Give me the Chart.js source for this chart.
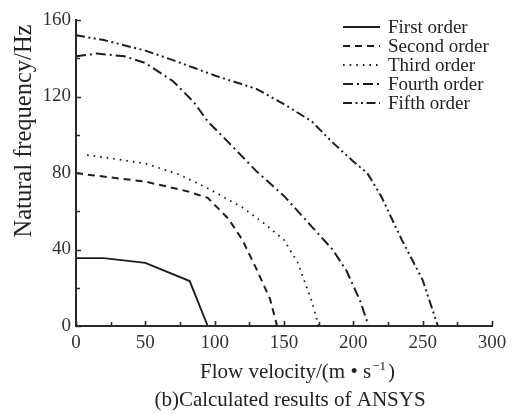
<!DOCTYPE html>
<html>
<head>
<meta charset="utf-8">
<style>
  html, body { margin: 0; padding: 0; background: #fff; }
  #wrap { width: 513px; height: 414px; }
</style>
<script src="https://cdn.jsdelivr.net/npm/chart.js@4/dist/chart.umd.min.js"></script>
</head>
<body>
<div id="wrap"><canvas id="c" width="513" height="414"></canvas></div>
<script>
// Flow velocity (m/s) and natural frequency (Hz) for each mode order
const v1 = [0, 20, 50, 82, 95];
const f1 = [35.5, 35.5, 33, 23.5, 0];

const v2 = [0, 10, 50, 80, 95, 110, 120, 130, 140, 145];
const f2 = [80, 79, 75.5, 70.5, 67, 56, 45, 30, 14, 0];

const v3 = [8, 22, 50, 75, 95, 110, 120, 135, 150, 160, 165, 170, 175];
const f3 = [89.5, 88, 85, 79, 72, 66, 62, 54, 45, 33, 23, 13, 0];

const v4 = [0, 15, 35, 50, 70, 85, 95, 110, 130, 150, 170, 185, 195, 205, 211];
const f4 = [141, 142.5, 141, 137.5, 128, 117, 107, 96, 81, 68, 52, 40, 29, 13, 0];

const v5 = [0, 20, 50, 70, 85, 100, 130, 150, 170, 185, 200, 210, 220, 235, 250, 261];
const f5 = [152, 149.5, 144, 139, 135, 131, 124, 116, 107, 96, 86, 80, 68, 45, 24, 0];

const seriesNames = ['First order', 'Second order', 'Third order', 'Fourth order', 'Fifth order'];
const xTicks = [0, 50, 100, 150, 200, 250, 300];
const yTicks = [0, 40, 80, 120, 160];

const xTitle = 'Flow velocity/(m \u2022 s';
const xTitleSup = '\u22121';
const yTitle = 'Natural frequency/Hz';
const caption = '(b)Calculated results of ANSYS';

const SERIF = '"Liberation Serif", "DejaVu Serif", serif';
const INK = '#1e1e1e';

function pts(xs, ys) { return xs.map((x, i) => ({ x: x, y: ys[i] })); }

const dashes = [[], [7, 5], [1.6, 5], [10, 4, 2, 4], [9, 3.5, 2, 3.5, 2, 3.5]];
const widths = [1.9, 2, 1.8, 2, 2];
const sets = [[v1, f1], [v2, f2], [v3, f3], [v4, f4], [v5, f5]];

const datasets = sets.map((s, i) => ({
  label: seriesNames[i],
  data: pts(s[0], s[1]),
  borderColor: INK,
  borderWidth: widths[i],
  borderDash: dashes[i],
  pointRadius: 0,
  tension: 0,
  fill: false,
  clip: 3
}));

// Inward major/minor ticks, titles and an in-plot legend
const decor = {
  id: 'decor',
  afterDraw(chart) {
    const ctx = chart.ctx;
    const xs = chart.scales.x, ys = chart.scales.y;
    const a = chart.chartArea;
    ctx.save();
    ctx.strokeStyle = '#2a2a2a';
    ctx.lineWidth = 1.6;
    ctx.setLineDash([]);
    ctx.beginPath();
    for (let v = 0; v <= 300; v += 25) {
      const px = Math.round(xs.getPixelForValue(v)) + 0.5;
      const len = (v % 50 === 0) ? 5 : 4;
      ctx.moveTo(px, a.bottom);
      ctx.lineTo(px, a.bottom - len);
    }
    for (let v = 0; v <= 160; v += 20) {
      const py = Math.round(ys.getPixelForValue(v)) + 0.5;
      const len = (v % 40 === 0) ? 5 : 4;
      ctx.moveTo(a.left, py);
      ctx.lineTo(a.left + len, py);
    }
    ctx.stroke();

    // legend
    const lx0 = 343, lx1 = 380, tx = 388, ly0 = 27, step = 19;
    chart.data.datasets.forEach((ds, i) => {
      const y = ly0 + i * step;
      ctx.strokeStyle = ds.borderColor;
      ctx.lineWidth = ds.borderWidth;
      ctx.setLineDash(ds.borderDash);
      ctx.beginPath();
      ctx.moveTo(lx0, y);
      ctx.lineTo(lx1, y);
      ctx.stroke();
      ctx.setLineDash([]);
      ctx.fillStyle = '#222';
      ctx.font = '19px ' + SERIF;
      ctx.textAlign = 'left';
      ctx.textBaseline = 'alphabetic';
      ctx.fillText(ds.label, tx, y + 6);
    });

    // y title
    ctx.fillStyle = '#222';
    ctx.save();
    ctx.translate(31, 131);
    ctx.rotate(-Math.PI / 2);
    ctx.font = '24.5px ' + SERIF;
    ctx.textAlign = 'center';
    ctx.textBaseline = 'alphabetic';
    ctx.fillText(yTitle, 0, 0);
    ctx.restore();

    // x title with superscript
    ctx.textAlign = 'left';
    ctx.textBaseline = 'alphabetic';
    const big = '21px ' + SERIF, small = '13px ' + SERIF;
    ctx.font = big;
    const w1 = ctx.measureText(xTitle).width;
    const w3 = ctx.measureText(')').width;
    ctx.font = small;
    const w2 = ctx.measureText(xTitleSup).width + 2;
    let x = 297 - (w1 + w2 + w3) / 2;
    const by = 378;
    ctx.font = big;
    ctx.fillText(xTitle, x, by);
    x += w1 + 1;
    ctx.font = small;
    ctx.fillText(xTitleSup, x, by - 8);
    x += w2;
    ctx.font = big;
    ctx.fillText(')', x, by);

    // caption
    ctx.font = '21px ' + SERIF;
    ctx.textAlign = 'center';
    ctx.fillText(caption, 290, 406);
    ctx.restore();
  }
};

new Chart(document.getElementById('c'), {
  type: 'line',
  data: { datasets: datasets },
  options: {
    responsive: false,
    animation: false,
    layout: { padding: { top: 20, right: 21, left: 0, bottom: 0 } },
    plugins: { legend: { display: false }, tooltip: { enabled: false } },
    scales: {
      x: {
        type: 'linear',
        min: 0, max: 300,
        afterFit(s) { s.height = 88; },
        afterBuildTicks(s) { s.ticks = xTicks.map(v => ({ value: v })); },
        grid: { display: false, drawTicks: false },
        border: { display: true, color: '#2a2a2a', width: 2 },
        ticks: { color: '#333', padding: 6, font: { family: SERIF, size: 19 }, maxRotation: 0 }
      },
      y: {
        type: 'linear',
        min: 0, max: 160,
        afterFit(s) { s.width = 76; },
        afterBuildTicks(s) { s.ticks = yTicks.map(v => ({ value: v })); },
        grid: { display: false, drawTicks: false },
        border: { display: true, color: '#2a2a2a', width: 2 },
        ticks: { color: '#333', padding: 5, font: { family: SERIF, size: 19 } }
      }
    }
  },
  plugins: [decor]
});
</script>
</body>
</html>
